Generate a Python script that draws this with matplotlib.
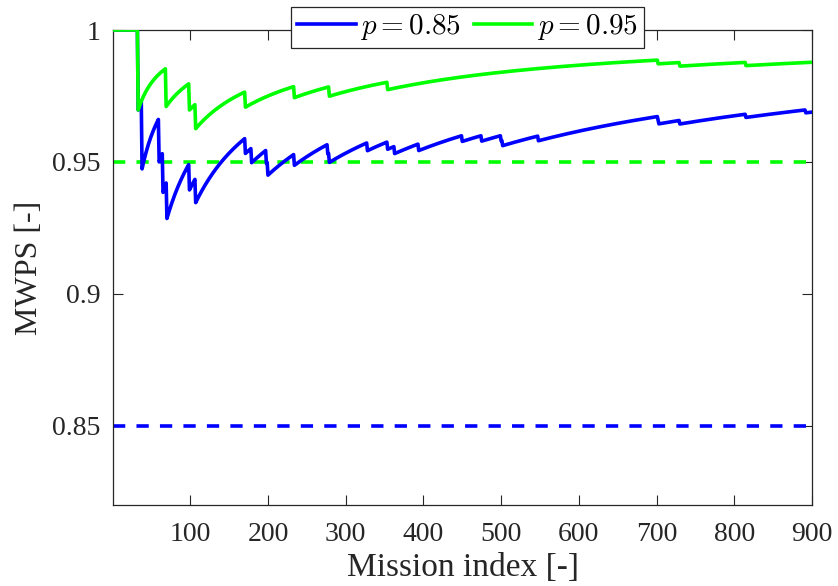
import numpy as np
import matplotlib
matplotlib.use("Agg")
import matplotlib.pyplot as plt

# Mission outcomes: indices (1-based) of the missions that failed, per target level
n_missions = 900
failures_p85 = [33, 38, 60, 65, 70, 99, 107, 171, 179, 198, 200, 234, 277, 279,
                328, 354, 363, 394, 450, 475, 500, 502, 548, 702, 703, 730, 815, 892]
failures_p95 = [33, 69, 99, 107, 171, 234, 279, 354, 702, 730, 815]
p_levels = [0.85, 0.95]
series_labels = [r"$p = 0.85$", r"$p = 0.95$"]
series_colors = ["#0000ff", "#00ff00"]

x_ticks = [100, 200, 300, 400, 500, 600, 700, 800, 900]
y_ticks = [0.85, 0.9, 0.95, 1.0]
y_tick_labels = ["0.85", "0.9", "0.95", "1"]


def running_success(failed, n):
    """Cumulative fraction of successful missions after each mission."""
    outcome = np.ones(n)
    outcome[np.asarray(failed) - 1] = 0.0
    idx = np.arange(1, n + 1)
    return idx, np.cumsum(outcome) / idx


plt.rcParams["font.family"] = ["Liberation Serif", "DejaVu Serif"]
plt.rcParams["mathtext.fontset"] = "cm"

W, H = 838, 586
fig = plt.figure(figsize=(W / 100, H / 100), dpi=100)
ax = fig.add_axes([113.3 / W, 1 - 505 / H, (812 - 113.3) / W, (505 - 30) / H])

axis_color = (0.15, 0.15, 0.15)
lw = 2.6
dash = (0, (3.4, 3.1))

handles = []
for failed, p, lab, col in zip([failures_p85, failures_p95], p_levels,
                               series_labels, series_colors):
    x, y = running_success(failed, n_missions)
    h, = ax.plot(x, y, color=col, lw=lw, label=lab, zorder=3)
    handles.append(h)
    ax.axhline(p, color=col, lw=lw, linestyle=dash, zorder=2)

ax.set_xlim(1, n_missions)
ax.set_ylim(0.82, 1.0)
ax.set_xticks(x_ticks)
ax.set_yticks(y_ticks)
ax.set_yticklabels(y_tick_labels)

ax.tick_params(direction="in", length=7, width=0.8, top=True, right=True,
               labelsize=20, colors=axis_color)
ax.tick_params(axis="x", pad=12)
ax.tick_params(axis="y", pad=9)
for s in ax.spines.values():
    s.set_color(axis_color)
    s.set_linewidth(0.9)

ax.set_xlabel("Mission index [-]", fontsize=24, color=axis_color, labelpad=4)
ax.set_ylabel("MWPS [-]", fontsize=23, color=axis_color, labelpad=6)

leg = fig.legend(handles=handles, loc="center",
                 bbox_to_anchor=(467.5 / W, 1 - 27.5 / H), ncol=2,
                 fontsize=21, frameon=True, fancybox=False,
                 edgecolor=axis_color, framealpha=1.0,
                 handlelength=2.0, handletextpad=0.15, columnspacing=0.45,
                 borderpad=0.2, borderaxespad=0)
leg.get_frame().set_linewidth(0.9)

fig.savefig("out.png", dpi=100)
